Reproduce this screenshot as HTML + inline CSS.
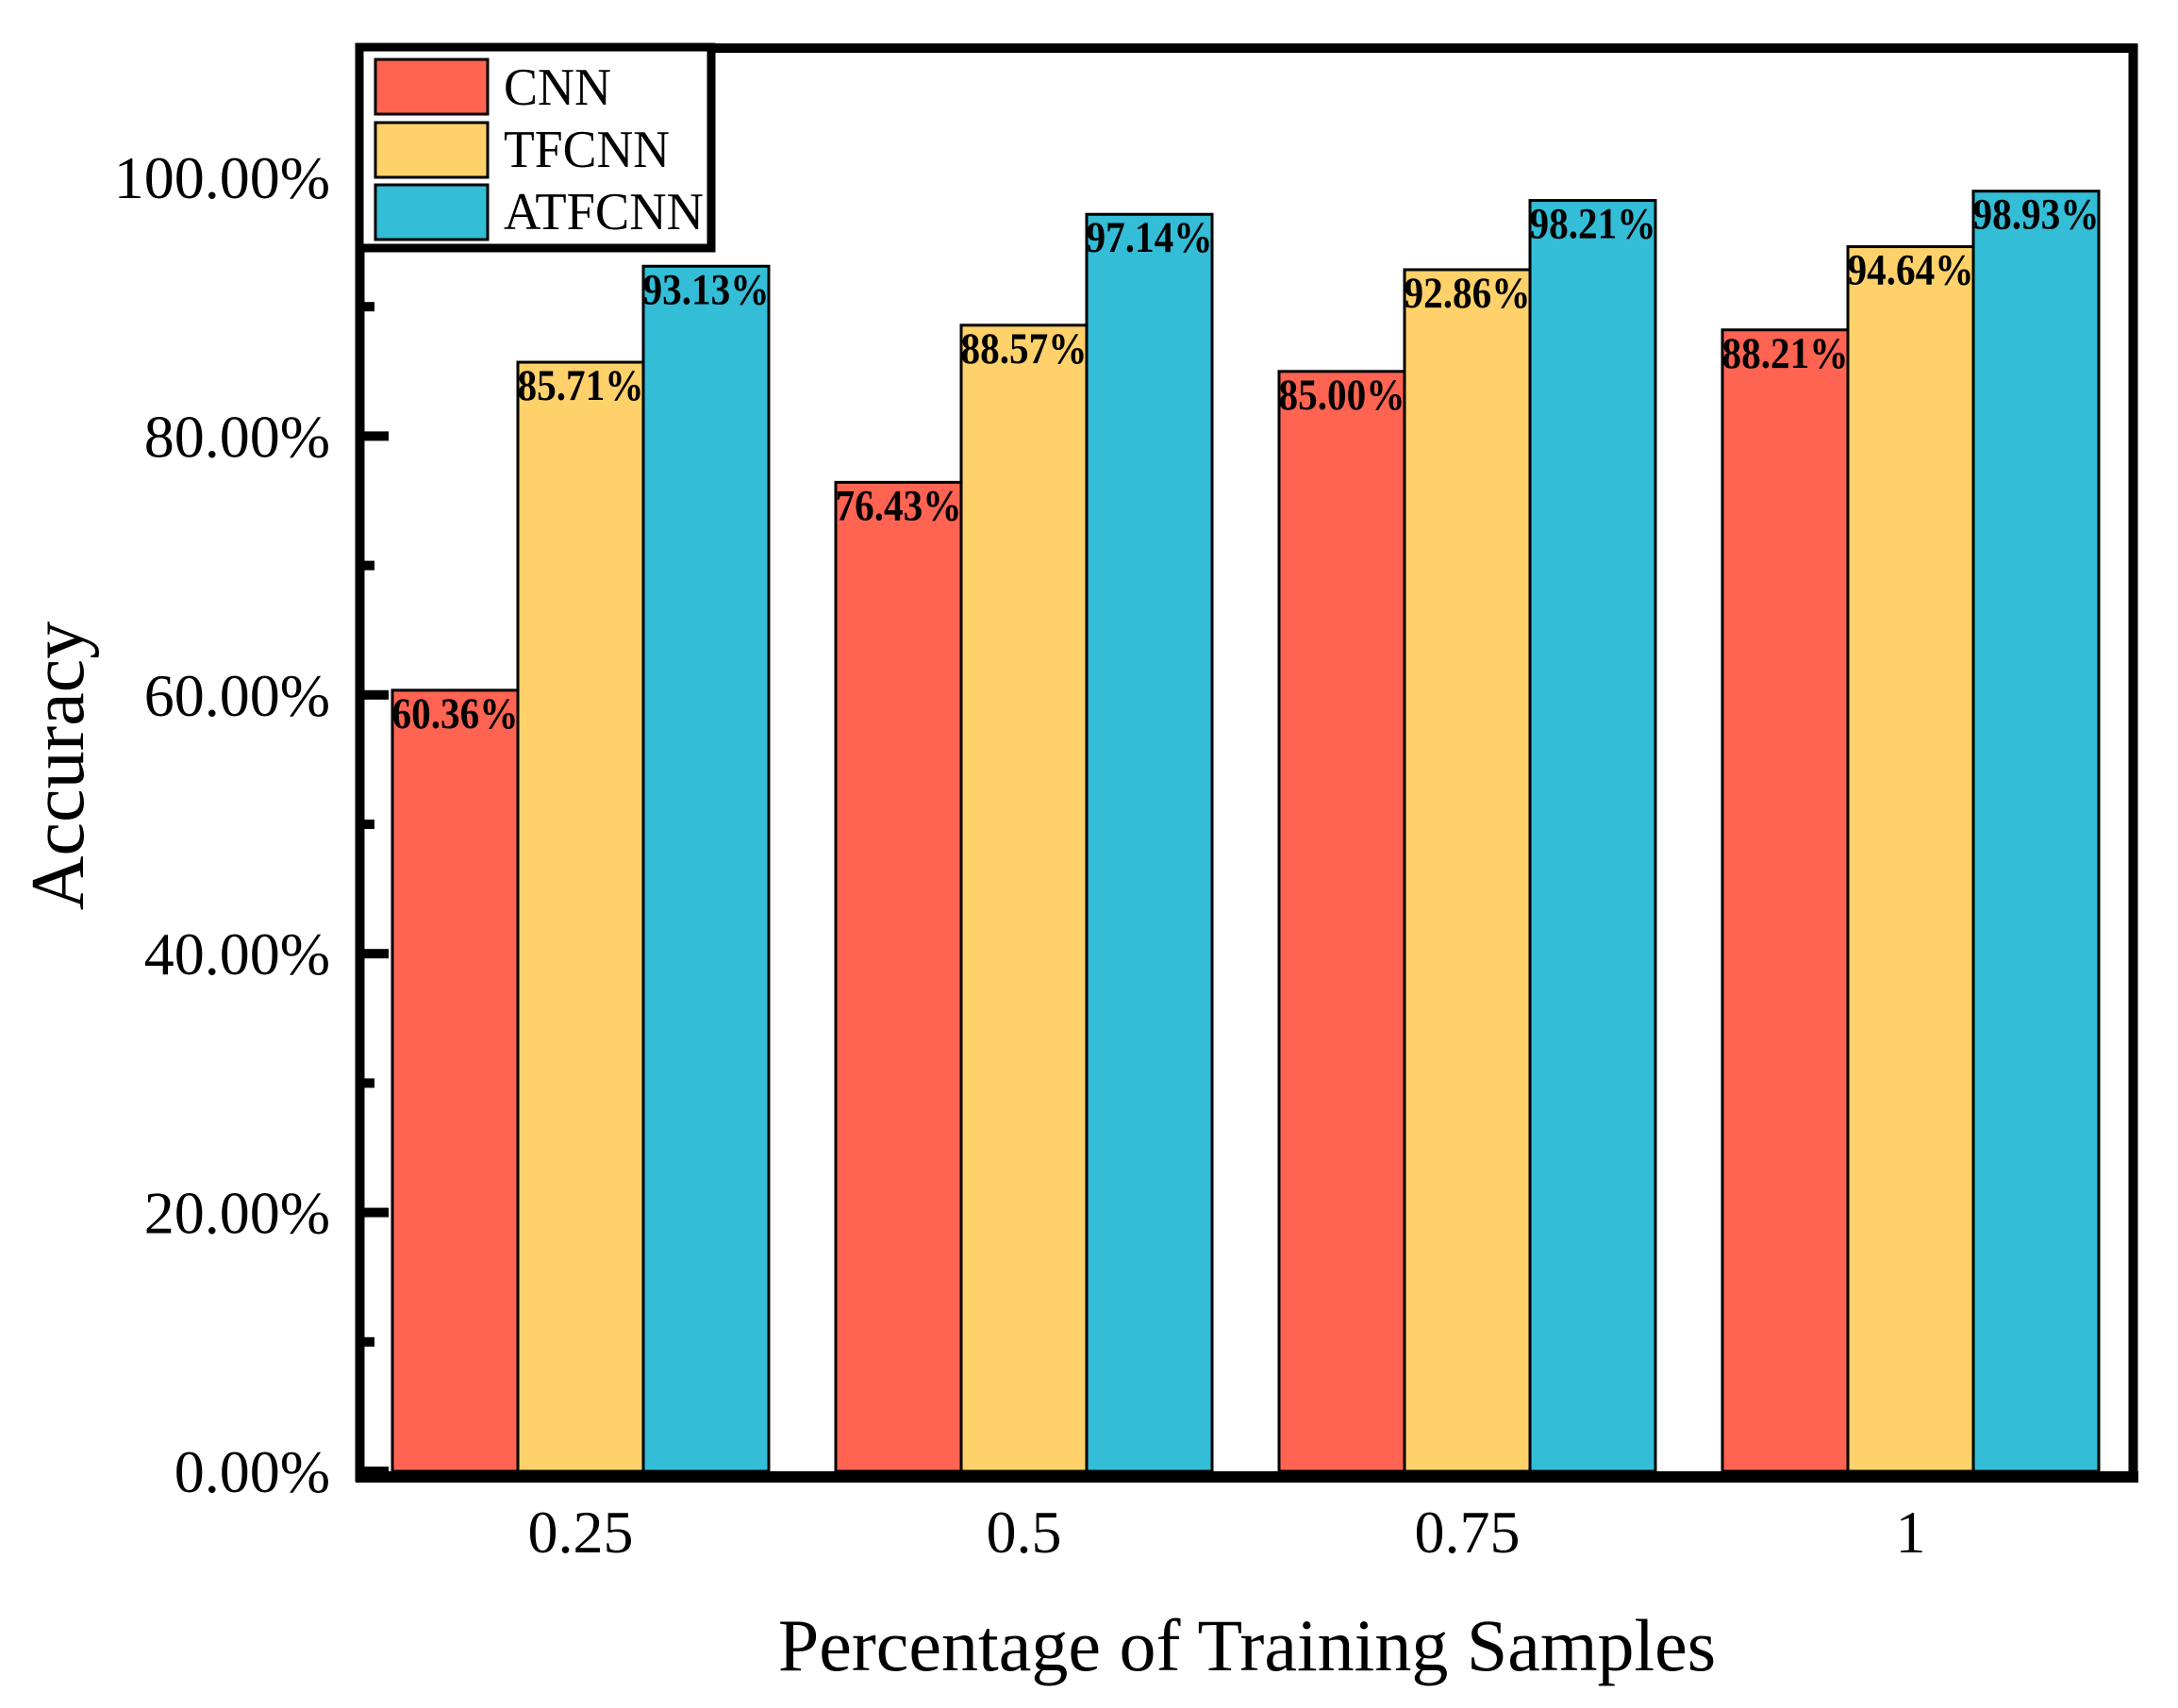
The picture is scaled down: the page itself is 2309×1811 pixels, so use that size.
<!DOCTYPE html>
<html><head><meta charset="utf-8"><style>
html,body{margin:0;padding:0;background:#fff}
svg{display:block}
text{font-family:"Liberation Serif",serif;fill:#000}
</style></head><body>
<svg width="2309" height="1811" viewBox="0 0 2309 1811">
<g id="bars"></g>
<g id="axes"></g>
<text x="1322" y="1771" font-size="78" text-anchor="middle">Percentage of Training Samples</text>
<text transform="translate(88,812) rotate(-90)" font-size="80" text-anchor="middle">Accuracy</text>
<g>
<rect x="381" y="50" width="373" height="213" fill="#fff" stroke="#000" stroke-width="9"/>
<rect x="398" y="63" width="119" height="58" fill="#FF6352" stroke="#000" stroke-width="3"/>
<rect x="398" y="130" width="119" height="58" fill="#FED16A" stroke="#000" stroke-width="3"/>
<rect x="398" y="196" width="119" height="58" fill="#33BDD6" stroke="#000" stroke-width="3"/>
<text x="534" y="111" font-size="56" textLength="114" lengthAdjust="spacingAndGlyphs">CNN</text>
<text x="534" y="177" font-size="56" textLength="176" lengthAdjust="spacingAndGlyphs">TFCNN</text>
<text x="534" y="243" font-size="56" textLength="212" lengthAdjust="spacingAndGlyphs">ATFCNN</text>
</g>
</svg>
<script>
const categories = ["0.25","0.5","0.75","1"];
const seriesNames = ["CNN","TFCNN","ATFCNN"];
const cnn = [60.36,76.43,85.00,88.21];
const tfcnn = [85.71,88.57,92.86,94.64];
const atfcnn = [93.13,97.14,98.21,98.93];
const yTicks = [0,20,40,60,80,100];
const yTickLabels = ["0.00%","20.00%","40.00%","60.00%","80.00%","100.00%"];
const minorTicks = [10,30,50,70,90];

const NS="http://www.w3.org/2000/svg";
const colors=["#FF6352","#FED16A","#33BDD6"];
const series=[cnn,tfcnn,atfcnn];
const y0=1560, k=13.72;
function yScale(v){return y0-v*k;}
const barW=133, groupStep=470, firstLeft=416;
function xGroup(i){return firstLeft+i*groupStep;}
function mk(tag,attrs,parent){const e=document.createElementNS(NS,tag);for(const a in attrs)e.setAttribute(a,attrs[a]);parent.appendChild(e);return e;}
const bars=document.getElementById('bars');
series.forEach((s,si)=>{
  s.forEach((v,ci)=>{
    const x=xGroup(ci)+si*barW, y=yScale(v);
    const r=mk('rect',{x:x,y:y,width:barW,height:y0-y,fill:colors[si],stroke:'#000','stroke-width':3},bars);
    
    
    const t=mk('text',{x:x+barW/2,y:y+40,'font-size':47,'font-weight':'bold','text-anchor':'middle',textLength:134,lengthAdjust:'spacingAndGlyphs'},bars);
    t.textContent=v.toFixed(2)+'%';
    
    
  });
});
const axes=document.getElementById('axes');
mk('rect',{x:381.5,y:51,width:1880,height:1515,fill:'none',stroke:'#000','stroke-width':10},axes);
mk('rect',{x:377,y:1560,width:1890,height:12,fill:'#000'},axes);
yTicks.forEach((v,i)=>{
  const y=yScale(v);
  mk('rect',{x:386,y:y-5,width:26,height:10,fill:'#000'},axes);
  const t=mk('text',{x:350,y:y+22,'font-size':64,'text-anchor':'end'},axes);
  t.textContent=yTickLabels[i];
  
  
});
minorTicks.forEach(v=>{
  const y=yScale(v);
  mk('rect',{x:386,y:y-5,width:11,height:10,fill:'#000'},axes);
});
categories.forEach((c,i)=>{
  const t=mk('text',{x:xGroup(i)+1.5*barW,y:1646,'font-size':64,'text-anchor':'middle'},axes);
  t.textContent=c;
  
  
});
</script>
</body></html>
